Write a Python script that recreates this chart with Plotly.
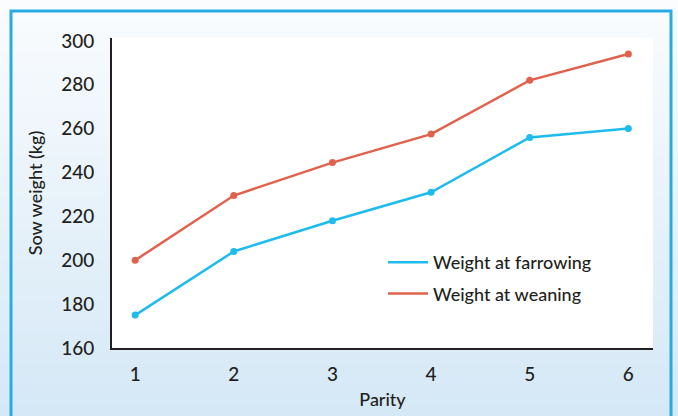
import plotly.graph_objects as go

parity = [1, 2, 3, 4, 5, 6]
weight_farrowing = [175, 204, 218, 231, 256, 260]
weight_weaning = [200, 229.5, 244.5, 257.5, 282, 294]
y_ticks = [160, 180, 200, 220, 240, 260, 280, 300]

BLUE = "#1ebcee"
RED = "#e0624d"
FONT = "Lato"
INK = "#231f20"

W, H = 678, 416
L, R, T, B = 112, 25, 38, 68
pw, ph = W - L - R, H - T - B


def px2x(px):
    return (px - L) / pw


def px2y(py):
    return (H - B - py) / ph


fig = go.Figure()

fig.add_trace(go.Scatter(x=parity, y=weight_farrowing, mode="lines+markers",
                         line=dict(color=BLUE, width=2.5), marker=dict(size=7, color=BLUE),
                         showlegend=False, cliponaxis=False))
fig.add_trace(go.Scatter(x=parity, y=weight_weaning, mode="lines+markers",
                         line=dict(color=RED, width=2.5), marker=dict(size=7, color=RED),
                         showlegend=False, cliponaxis=False))
fig.add_trace(go.Scatter(x=[None], y=[None], mode="lines", name="Weight at farrowing",
                         line=dict(color=BLUE, width=2.5), legendgroup="a"))
fig.add_trace(go.Scatter(x=[None], y=[None], mode="lines", name="Weight at weaning",
                         line=dict(color=RED, width=2.5), legendgroup="b"))

shapes = []
# gradient background
N = 40
top = (250, 252, 254)
bot = (213, 232, 246)
for i in range(N):
    f = i / (N - 1)
    c = tuple(round(top[k] + (bot[k] - top[k]) * f) for k in range(3))
    y0 = H * i / N
    y1 = H * (i + 1) / N + 1
    shapes.append(dict(type="rect", xref="paper", yref="paper", layer="below",
                       x0=px2x(0), x1=px2x(W), y0=px2y(y1), y1=px2y(y0),
                       fillcolor="rgb(%d,%d,%d)" % c, line=dict(width=0)))
# white plot area
shapes.append(dict(type="rect", xref="paper", yref="paper", layer="below",
                   x0=0, x1=1, y0=0, y1=1, fillcolor="white", line=dict(width=0)))
# blue frame
shapes.append(dict(type="rect", xref="paper", yref="paper", layer="below",
                   x0=px2x(11), x1=px2x(671), y0=px2y(430), y1=px2y(11),
                   fillcolor="rgba(0,0,0,0)", line=dict(color="#29abe2", width=3)))

fig.update_layout(
    width=W, height=H,
    margin=dict(l=L, r=R, t=T, b=B, pad=0, autoexpand=False),
    paper_bgcolor="white",
    plot_bgcolor="rgba(0,0,0,0)",
    font=dict(family=FONT, size=18, color=INK),
    shapes=shapes,
    showlegend=True,
    legend=dict(x=px2x(383), y=px2y(244), xanchor="left", yanchor="top",
                bgcolor="rgba(0,0,0,0)", font=dict(size=18, family=FONT, color=INK, weight=500),
                tracegroupgap=5, itemwidth=40),
    xaxis=dict(range=[0.765, 6.25], tickvals=parity, ticktext=[str(p) for p in parity],
               showgrid=False, zeroline=False, showline=True, linecolor=INK,
               linewidth=2, ticks="outside", ticklen=8, tickcolor="rgba(0,0,0,0)",
               automargin=False, tickfont=dict(size=19, color=INK, weight=500),
               title=dict(text="Parity", font=dict(size=18, color=INK, weight=500), standoff=10)),
    yaxis=dict(range=[160, 301.3], tickvals=y_ticks, showgrid=False, zeroline=False,
               showline=True, linecolor=INK, linewidth=2, ticks="outside",
               ticklen=12, tickcolor="rgba(0,0,0,0)", automargin=False,
               tickfont=dict(size=19, color=INK, weight=500),
               title=dict(text="Sow weight (kg)", font=dict(size=18, color=INK, weight=500), standoff=14)),
)

fig.write_html("out.html", config={"displayModeBar": False},
               post_script="document.body.style.margin='0';document.body.style.overflow='hidden';")
